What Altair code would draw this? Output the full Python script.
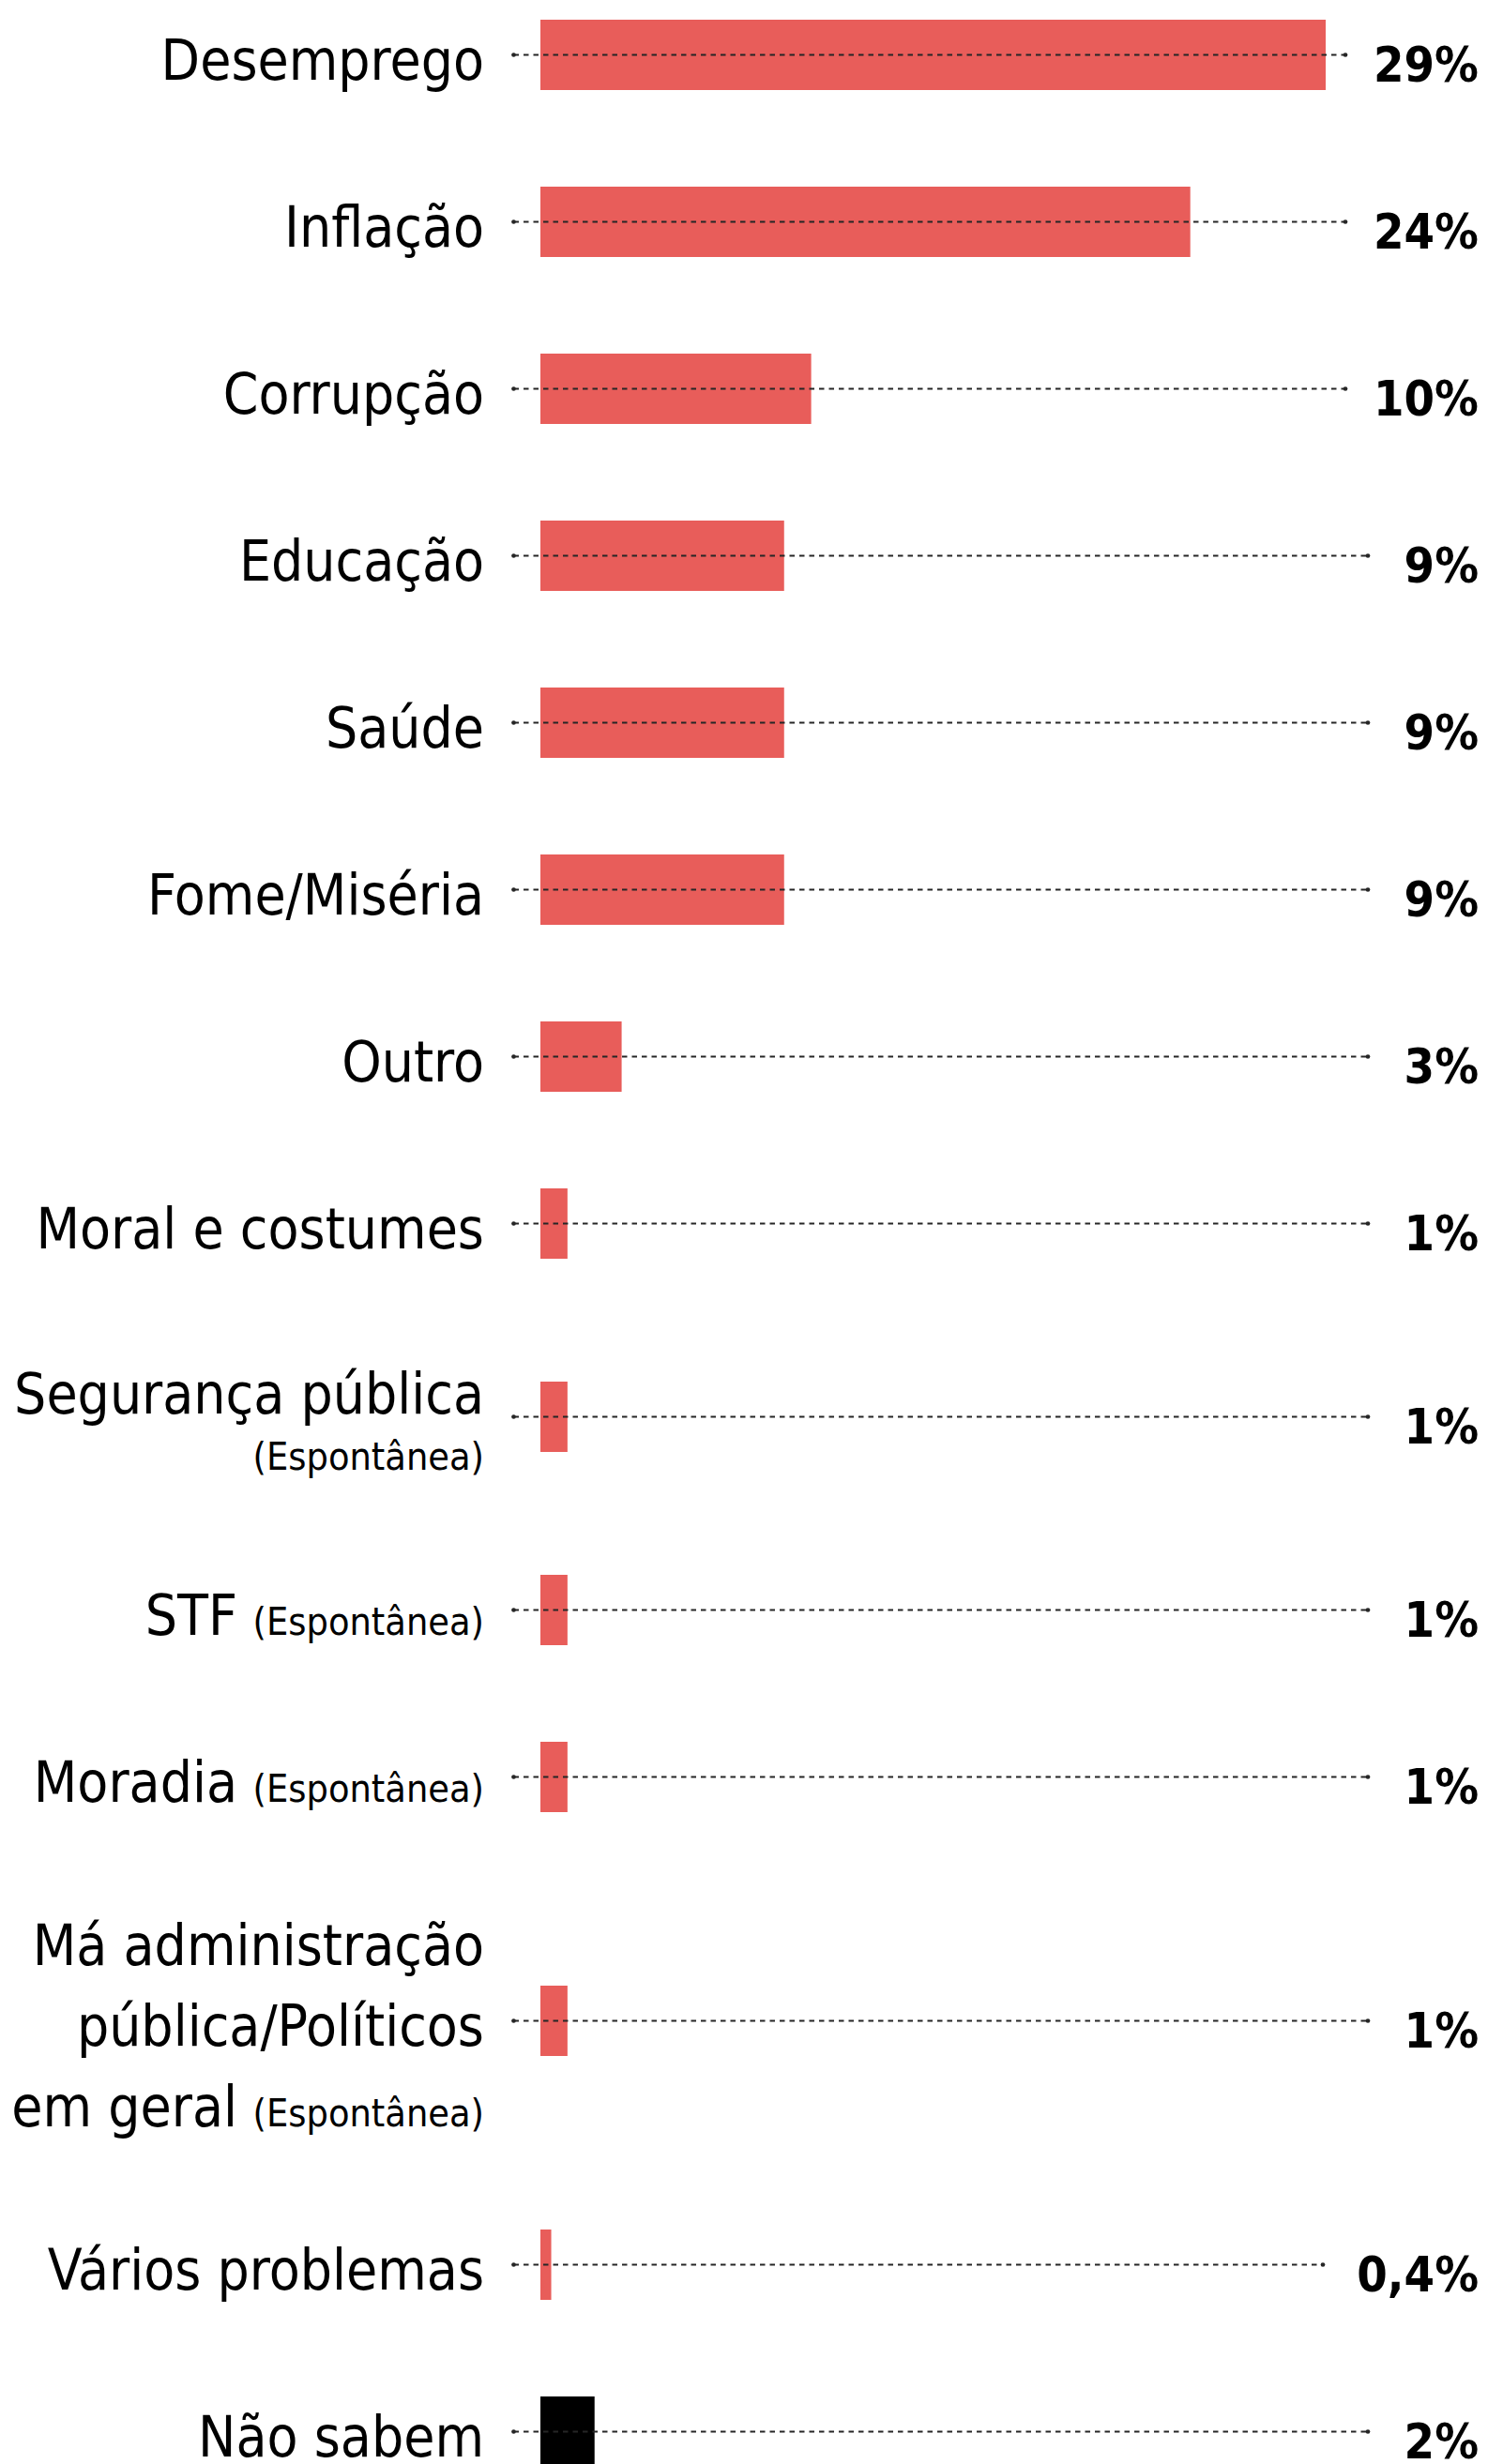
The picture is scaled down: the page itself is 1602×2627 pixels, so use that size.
import altair as alt
import pandas as pd

# ---------------- data ----------------
LABEL_LINES = [
    ["Desemprego"],
    ["Inflação"],
    ["Corrupção"],
    ["Educação"],
    ["Saúde"],
    ["Fome/Miséria"],
    ["Outro"],
    ["Moral e costumes"],
    ["Segurança pública"],
    ["STF"],
    ["Moradia"],
    ["Má administração", "pública/Políticos", "em geral"],
    ["Vários problemas"],
    ["Não sabem"],
]
NOTES = ["", "", "", "", "", "", "", "",
         "(Espontânea)", "(Espontânea)", "(Espontânea)", "(Espontânea)", "", ""]
NOTE_PLACEMENT = ["", "", "", "", "", "", "", "",
                  "below", "inline", "inline", "inline", "", ""]
VALUES = [29, 24, 10, 9, 9, 9, 3, 1, 1, 1, 1, 1, 0.4, 2]
VALUE_LABELS = ["29%", "24%", "10%", "9%", "9%", "9%", "3%", "1%", "1%", "1%",
                "1%", "1%", "0,4%", "2%"]
NO_ANSWER = "Não sabem"

# ---------------- layout / style constants ----------------
RED = "#e85d5a"
DARK = "#262626"
FONT = "'DejaVu Sans Condensed', 'DejaVu Sans', sans-serif"
MAIN_SIZE = 60
NOTE_SIZE = 41
VALUE_SIZE = 52

W, H = 1570, 2619
BAR_X0 = 568          # chart px where 0 % sits
PX_PER_PCT = 837 / 29
LABEL_RIGHT = 508
VALUE_RIGHT = 1568
NOTE_W = 247
NOTE_GAP = 16
TOP = 50.5            # centre of first row
SLOT_PX = 178
MAIN_LINE_PX = 86     # text line spacing
NOTE_LINE_PX = 60
ROW_LINE_EXTRA = 82   # extra row room per additional main line
ROW_NOTE_EXTRA = 56   # extra row room for a note line below
CAP = 44
CENTER_SHIFT = 4.5
BAR_SIZE = 75
LEAD_PX = 28.5
LINE_END_PX = 882
LINE_STEP_PX = 24

# ---------------- derived tables ----------------
rows = []
pieces = []
pos_px = 0.0
prev_extra = None
for i, lines in enumerate(LABEL_LINES):
    below = NOTE_PLACEMENT[i] == "below"
    extra = (len(lines) - 1) * ROW_LINE_EXTRA + (ROW_NOTE_EXTRA if below else 0)
    if prev_extra is not None:
        pos_px += SLOT_PX + (prev_extra + extra) / 2
    prev_extra = extra
    pos = pos_px / SLOT_PX
    label = VALUE_LABELS[i]
    end_px = LINE_END_PX - LINE_STEP_PX * max(0, len(label) - 2)
    rows.append(dict(
        cat=" ".join(lines),
        value=VALUES[i],
        label=label,
        pos=pos,
        label_y=pos + 28.5 / SLOT_PX,
        lead=-LEAD_PX / PX_PER_PCT,
        line_end=end_px / PX_PER_PCT,
    ))
    block_h = CAP + (len(lines) - 1) * MAIN_LINE_PX + (NOTE_LINE_PX if below else 0)
    b0 = CENTER_SHIFT + CAP - block_h / 2
    for j, txt in enumerate(lines):
        last = j == len(lines) - 1
        kind = "main_inline" if (last and NOTE_PLACEMENT[i] == "inline") else "main"
        pieces.append(dict(text=txt, kind=kind,
                           y=pos + (b0 + j * MAIN_LINE_PX) / SLOT_PX))
    if NOTES[i]:
        nb = b0 + (len(lines) - 1) * MAIN_LINE_PX + (NOTE_LINE_PX if below else 0)
        pieces.append(dict(text=NOTES[i], kind="note", y=pos + nb / SLOT_PX))

df = pd.DataFrame(rows)
lab = pd.DataFrame(pieces)

xscale = alt.Scale(domain=[0, max(VALUES)],
                   range=[BAR_X0, BAR_X0 + max(VALUES) * PX_PER_PCT],
                   nice=False, zero=False, padding=0)
yscale = alt.Scale(domain=[0, 1], range=[TOP, TOP + SLOT_PX],
                   nice=False, zero=False, padding=0)

base = alt.Chart(df)

bars = base.mark_bar(orient="horizontal", size=BAR_SIZE).encode(
    x=alt.X("value:Q", scale=xscale, axis=None, stack=None),
    x2=alt.datum(0),
    y=alt.Y("pos:Q", scale=yscale, axis=None),
    color=alt.condition(alt.datum.cat == NO_ANSWER, alt.value("#000000"), alt.value(RED)),
)

rule = base.mark_rule(strokeDash=[5.5, 5], strokeWidth=1.8, color=DARK).encode(
    x=alt.X("lead:Q", scale=xscale, axis=None),
    x2="line_end:Q",
    y=alt.Y("pos:Q", scale=yscale, axis=None),
)
dot1 = base.mark_circle(size=22, color=DARK, opacity=1).encode(
    x=alt.X("lead:Q", scale=xscale, axis=None),
    y=alt.Y("pos:Q", scale=yscale, axis=None),
)
dot2 = base.mark_circle(size=22, color=DARK, opacity=1).encode(
    x=alt.X("line_end:Q", scale=xscale, axis=None),
    y=alt.Y("pos:Q", scale=yscale, axis=None),
)

values = base.mark_text(align="right", baseline="alphabetic", font=FONT,
                        fontWeight="bold", fontSize=VALUE_SIZE, color="#000").encode(
    x=alt.value(VALUE_RIGHT),
    y=alt.Y("label_y:Q", scale=yscale, axis=None),
    text="label:N",
)

labc = alt.Chart(lab)
main_txt = labc.transform_filter(alt.datum.kind == "main").mark_text(
    align="right", baseline="alphabetic", font=FONT, fontSize=MAIN_SIZE, color="#000").encode(
    x=alt.value(LABEL_RIGHT),
    y=alt.Y("y:Q", scale=yscale, axis=None),
    text="text:N",
)
inline_txt = labc.transform_filter(alt.datum.kind == "main_inline").mark_text(
    align="right", baseline="alphabetic", font=FONT, fontSize=MAIN_SIZE, color="#000").encode(
    x=alt.value(LABEL_RIGHT - NOTE_W - NOTE_GAP),
    y=alt.Y("y:Q", scale=yscale, axis=None),
    text="text:N",
)
note_txt = labc.transform_filter(alt.datum.kind == "note").mark_text(
    align="right", baseline="alphabetic", font=FONT, fontSize=NOTE_SIZE, color="#000").encode(
    x=alt.value(LABEL_RIGHT),
    y=alt.Y("y:Q", scale=yscale, axis=None),
    text="text:N",
)

chart = alt.layer(bars, rule, dot1, dot2, values, main_txt, inline_txt, note_txt).properties(
    width=W, height=H, padding=0,
    autosize=alt.AutoSizeParams(type="none"),
    background="white",
).configure_view(strokeWidth=0)

chart.save("out.html", embed_options={"renderer": "svg", "actions": False})
